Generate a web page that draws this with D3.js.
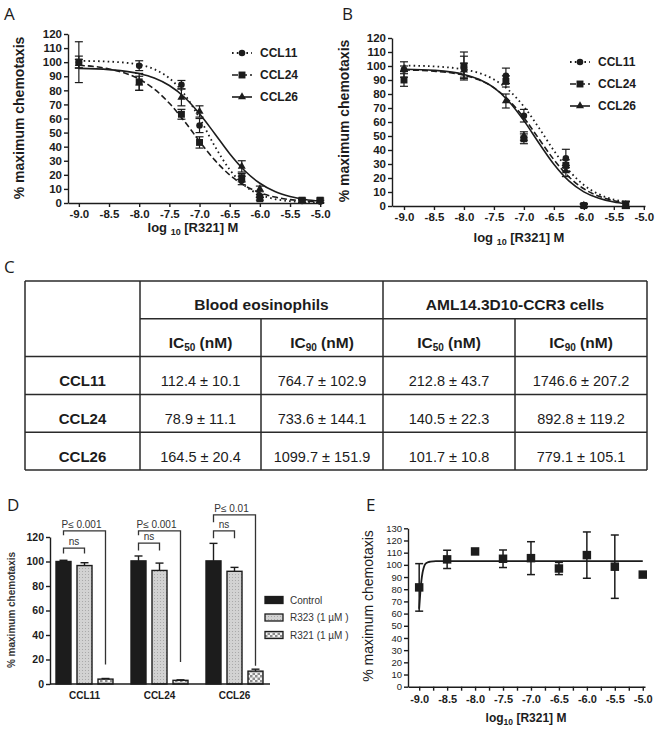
<!DOCTYPE html>
<html><head><meta charset="utf-8">
<script src="https://cdn.jsdelivr.net/npm/d3@7"></script>
<style>body{margin:0;background:#fff}</style>
</head><body>
<svg id="c" width="660" height="730"></svg>
<script>
// ---------------- DATA ----------------
// Panel A (blood eosinophils) dose-response
const doseA = [-9, -8, -7.3, -7, -6.3, -6, -5.3, -5];
const aCCL11 = [100, 97.5, 84, 55, 16, 5, 1.5, 1];
const aCCL11Err = [4.3, 3.5, 3, 5, 3, 1, 1, 1];
const aCCL24 = [100, 86, 63, 43, 18, 3, 2, 2];
const aCCL24Err = [14.5, 6, 3.5, 4, 3, 1, 1.5, 1.5];
const aCCL26 = [99, 85, 75, 65, 26, 10, 1, 1];
const aCCL26Err = [3, 5, 6, 4, 4, 2, 1, 1];
const fitXA = [-9, -8.5, -8, -7.75, -7.5, -7.25, -7, -6.75, -6.5, -6.25, -6, -5.75, -5.5, -5.25, -5];
const aFit11 = [100.9, 100.4, 98.2, 95, 88.6, 77.2, 60.3, 40.6, 23.7, 12.3, 6, 2.8, 1.3, 0.6, 0.3];
const aFit24 = [97.8, 95.2, 87.9, 80.9, 70.8, 58, 43.8, 30.6, 19.9, 12.3, 7.3, 4.2, 2.4, 1.4, 0.8];
const aFit26 = [95.6, 94.7, 91.9, 88.7, 83.4, 75.1, 63.4, 49.4, 35, 22.9, 14, 8.1, 4.6, 2.5, 1.4];

// Panel B (AML14.3D10-CCR3 cells)
const doseB = [-9, -8, -7.3, -7, -6.3, -6, -5.3];
const bCCL11 = [97.5, 99, 93, 64.5, 34, 0.5, 1];
const bCCL11Err = [5.5, 8, 5.5, 4.5, 6.5, 1, 2.5];
const bCCL24 = [90, 100, 89, 48, 29, 0.3, 0.7];
const bCCL24Err = [4.5, 10, 4, 3.5, 4, 1, 2.5];
const bCCL26 = [98, 97, 75, 50, 25, 0.5, 1];
const bCCL26Err = [2, 5, 5, 3, 4, 1, 2];
const fitXB = [-9, -8.5, -8, -7.75, -7.5, -7.25, -7, -6.75, -6.5, -6.25, -6, -5.75, -5.5, -5.3];
const bFit11 = [100.3, 99.7, 97.5, 95, 90.4, 82.6, 71, 55.9, 39.6, 25.4, 15, 8.4, 4.6, 2.9];
const bFit24 = [97.2, 96.3, 93.4, 90.1, 84.4, 75.5, 63, 48, 33.1, 20.9, 12.3, 7, 3.8, 2.3];
const bFit26 = [97.7, 96.9, 94, 90.5, 84.5, 74.7, 61, 45, 29.8, 17.9, 10.1, 5.5, 2.9, 1.7];

const seriesNames = ['CCL11', 'CCL24', 'CCL26'];
const yTicksAB = [0, 10, 20, 30, 40, 50, 60, 70, 80, 90, 100, 110, 120];
const xTicksAB = [-9, -8.5, -8, -7.5, -7, -6.5, -6, -5.5, -5];

// Panel C table
const tableRows = ['CCL11', 'CCL24', 'CCL26'];
const groupHeads = ['Blood eosinophils', 'AML14.3D10-CCR3 cells'];
const icHeads = ['50', '90', '50', '90'];
const bloodIC50 = ['112.4 ± 10.1', '78.9 ± 11.1', '164.5 ± 20.4'];
const bloodIC90 = ['764.7 ± 102.9', '733.6 ± 144.1', '1099.7 ± 151.9'];
const amlIC50 = ['212.8 ± 43.7', '140.5 ± 22.3', '101.7 ± 10.8'];
const amlIC90 = ['1746.6 ± 207.2', '892.8 ± 119.2', '779.1 ± 105.1'];

// Panel D bars
const barCats = ['CCL11', 'CCL24', 'CCL26'];
const barGroups = ['Control', 'R323 (1 µM )', 'R321 (1 µM )'];
const controlVals = [100, 100.5, 100.5];
const controlErr = [1, 4, 14.3];
const r323Vals = [96.7, 92.7, 92];
const r323Err = [2.3, 6, 3.2];
const r321Vals = [4, 3, 10.5];
const r321Err = [0.5, 0.4, 1.6];
const yTicksD = [0, 20, 40, 60, 80, 100, 120];
const brCat = ['CCL11', 'CCL11', 'CCL24', 'CCL24', 'CCL26', 'CCL26'];
const brTo = [2, 1, 2, 1, 2, 1];
const brLabel = ['P\u2264 0.001', 'ns', 'P\u2264 0.001', 'ns', 'P\u2264 0.01', 'ns'];
const brLevel = [125, 111, 125, 115, 138, 125];
const brLeftEnd = [121.5, 106.5, 121.5, 109, 132, 119];
const brRightEnd = [16, 106.5, 18, 109, 15, 119];

// Panel E
const doseE = [-9, -8.5, -8, -7.5, -7, -6.5, -6, -5.5, -5];
const eMean = [81.5, 104.5, 111, 105, 105.5, 97, 108, 98.5, 92];
const eErr = [19.5, 7.5, 0, 7.2, 13.5, 5, 19, 26, 0];
const eFitX = [-9.0, -8.98, -8.96, -8.94, -8.92, -8.9, -8.86, -8.8, -8.7, -8.0, -5.0];
const eFitY = [64, 77, 87, 93.5, 97.5, 100, 101.8, 102.6, 103, 103, 103];
const yTicksE = [0, 10, 20, 30, 40, 50, 60, 70, 80, 90, 100, 110, 120, 130];
const xTicksE = [-9, -8.5, -8, -7.5, -7, -6.5, -6, -5.5, -5];
const xMinorE = [-8.75, -8.25, -7.75, -7.25, -6.75, -6.25, -5.75, -5.25];

// ---------------- DRAWING ----------------
const FONT = "'Liberation Sans', Arial, Helvetica, sans-serif";
const INK = '#1c1c1c';
const svg = d3.select('#c');
svg.append('rect').attr('width', 660).attr('height', 730).attr('fill', '#fff');

// patterns
const defs = svg.append('defs');
const p1 = defs.append('pattern').attr('id', 'dots').attr('patternUnits', 'userSpaceOnUse').attr('width', 3).attr('height', 3);
p1.append('rect').attr('width', 3).attr('height', 3).attr('fill', '#d2d2d2');
p1.append('rect').attr('x', 1).attr('y', 1).attr('width', 1).attr('height', 1).attr('fill', '#a9a9a9');
const p2 = defs.append('pattern').attr('id', 'check').attr('patternUnits', 'userSpaceOnUse').attr('width', 5).attr('height', 5);
p2.append('rect').attr('width', 5).attr('height', 5).attr('fill', '#f4f4f4');
p2.append('rect').attr('width', 2.5).attr('height', 2.5).attr('fill', '#8c8c8c');
p2.append('rect').attr('x', 2.5).attr('y', 2.5).attr('width', 2.5).attr('height', 2.5).attr('fill', '#8c8c8c');

// panel labels
const labelPos = {A: [4, 20], B: [342, 20], C: [4, 273], D: [7, 511], E: [366, 511]};
Object.entries(labelPos).forEach(([k, p]) => {
  svg.append('text').attr('x', p[0]).attr('y', p[1]).text(k)
    .attr('font-family', "'Open Sans', 'Noto Sans', sans-serif").attr('font-size', 17).attr('fill', INK);
});

function styleAxis(a, fs, fw) {
  a.select('.domain').attr('stroke', INK).attr('stroke-width', 1.4);
  a.selectAll('.tick line').attr('stroke', INK).attr('stroke-width', 1.4);
  a.selectAll('text').attr('font-size', fs).attr('font-weight', fw).attr('fill', INK).attr('font-family', FONT);
}

function logTitle(g, x, y, fs, sub, spaced) {
  const t = g.append('text').attr('x', x).attr('y', y).attr('text-anchor', 'middle')
    .attr('font-family', FONT).attr('font-size', fs).attr('font-weight', 'bold').attr('fill', INK);
  t.append('tspan').text(spaced ? 'log ' : 'log');
  t.append('tspan').text('10').attr('font-size', sub).attr('dy', 3);
  t.append('tspan').text(' [R321] M').attr('dy', -3);
}

const markerTypes = [d3.symbolCircle, d3.symbolSquare, d3.symbolTriangle];
const markerSizes = [34, 48, 28];
const dashes = ['1.6,3.2', '6,3', null];

function dosePanel(p) {
  const x = d3.scaleLinear().domain(p.xDomain).range(p.xRange);
  const y = d3.scaleLinear().domain([0, 120]).range(p.yRange);
  const g = svg.append('g');
  const ya = g.append('g').attr('transform', `translate(${p.xRange[0]},0)`)
    .call(d3.axisLeft(y).tickValues(yTicksAB).tickSize(4).tickPadding(2).tickSizeOuter(0));
  styleAxis(ya, 11.5, 'bold');
  const xa = g.append('g').attr('transform', `translate(0,${p.yRange[0]})`)
    .call(d3.axisBottom(x).tickValues(xTicksAB).tickSize(4).tickPadding(3).tickFormat(d => d.toFixed(1)).tickSizeOuter(0));
  styleAxis(xa, 11.5, 'bold');
  // titles
  g.append('text').attr('transform', `translate(${p.yTitle[0]},${p.yTitle[1]}) rotate(-90)`)
    .attr('text-anchor', 'middle').attr('font-family', FONT).attr('font-size', 14).attr('font-weight', 'bold')
    .attr('fill', INK).text('% maximum chemotaxis');
  logTitle(g, p.xTitle[0], p.xTitle[1], 13, 9, true);
  // fits
  p.series.forEach((s, k) => {
    const line = d3.line().x((d, i) => x(s.fitX[i])).y(d => y(d)).curve(d3.curveMonotoneX);
    g.append('path').attr('d', line(s.fit)).attr('fill', 'none').attr('stroke', INK)
      .attr('stroke-width', k === 0 ? 1.8 : 1.6).attr('stroke-dasharray', dashes[k]);
  });
  // error bars
  p.series.forEach((s, k) => {
    s.mean.forEach((m, i) => {
      if (!s.err[i]) return;
      const cx = x(p.dose[i]);
      const y1 = y(m - s.err[i]), y2 = y(m + s.err[i]);
      g.append('line').attr('x1', cx).attr('x2', cx).attr('y1', y1).attr('y2', y2).attr('stroke', INK).attr('stroke-width', 1.2);
      [y1, y2].forEach(yy => g.append('line').attr('x1', cx - 4).attr('x2', cx + 4).attr('y1', yy).attr('y2', yy).attr('stroke', INK).attr('stroke-width', 1.2));
    });
  });
  // markers
  p.series.forEach((s, k) => {
    const sym = d3.symbol().type(markerTypes[k]).size(markerSizes[k]);
    s.mean.forEach((m, i) => {
      g.append('path').attr('d', sym()).attr('transform', `translate(${x(p.dose[i])},${y(m)})`).attr('fill', INK);
    });
  });
  // legend
  seriesNames.forEach((n, k) => {
    const ly = p.legend[1] + k * 22;
    const lx = p.legend[0];
    g.append('line').attr('x1', lx).attr('x2', lx + 20).attr('y1', ly).attr('y2', ly).attr('stroke', INK)
      .attr('stroke-width', k === 0 ? 1.8 : 1.6).attr('stroke-dasharray', dashes[k]);
    g.append('path').attr('d', d3.symbol().type(markerTypes[k]).size(markerSizes[k])())
      .attr('transform', `translate(${lx + 10},${ly})`).attr('fill', INK);
    g.append('text').attr('x', lx + 28).attr('y', ly + 4.3).text(n).attr('font-family', FONT)
      .attr('font-size', 12).attr('font-weight', 'bold').attr('fill', INK);
  });
}

dosePanel({
  xDomain: [-9.18, -4.97], xRange: [68, 322], yRange: [203, 34],
  dose: doseA, yTitle: [24, 118], xTitle: [193, 232], legend: [232, 53],
  series: [
    {mean: aCCL11, err: aCCL11Err, fit: aFit11, fitX: fitXA},
    {mean: aCCL24, err: aCCL24Err, fit: aFit24, fitX: fitXA},
    {mean: aCCL26, err: aCCL26Err, fit: aFit26, fitX: fitXA}
  ]
});
dosePanel({
  xDomain: [-9.2, -4.98], xRange: [392, 645], yRange: [206, 38],
  dose: doseB, yTitle: [349, 121], xTitle: [519, 242], legend: [570, 62],
  series: [
    {mean: bCCL11, err: bCCL11Err, fit: bFit11, fitX: fitXB},
    {mean: bCCL24, err: bCCL24Err, fit: bFit24, fitX: fitXB},
    {mean: bCCL26, err: bCCL26Err, fit: bFit26, fitX: fitXB}
  ]
});

// ---------------- TABLE (C) ----------------
(function () {
  const g = svg.append('g').attr('font-family', FONT).attr('fill', INK);
  const colEdges = [25, 140, 261, 383, 515, 647];
  const rowY = d3.scaleBand().domain(['head', 'sub', ...tableRows]).range([281, 470]);
  const L = (x1, y1, x2, y2) => g.append('line').attr('x1', x1).attr('y1', y1).attr('x2', x2).attr('y2', y2)
    .attr('stroke', '#2a2a2a').attr('stroke-width', 1.5);
  const top = rowY('head'), bot = rowY.range()[1];
  L(colEdges[0], top, colEdges[5], top);
  L(colEdges[0], bot, colEdges[5], bot);
  L(colEdges[1], rowY('sub'), colEdges[5], rowY('sub'));
  tableRows.forEach(r => L(colEdges[0], rowY(r), colEdges[5], rowY(r)));
  [0, 1, 3, 5].forEach(i => L(colEdges[i], top, colEdges[i], bot));
  [2, 4].forEach(i => L(colEdges[i], rowY('sub'), colEdges[i], bot));
  const bw = rowY.bandwidth();
  const base = k => rowY(k) + bw / 2 + 10.5;
  const mid = (a, b) => (colEdges[a] + colEdges[b]) / 2;
  groupHeads.forEach((h, i) => {
    g.append('text').attr('x', i === 0 ? mid(1, 3) : mid(3, 5)).attr('y', base('head')).attr('text-anchor', 'middle')
      .attr('font-size', 15.5).attr('font-weight', 'bold').text(h);
  });
  icHeads.forEach((s, i) => {
    const t = g.append('text').attr('x', mid(i + 1, i + 2)).attr('y', base('sub')).attr('text-anchor', 'middle')
      .attr('font-size', 15.5).attr('font-weight', 'bold');
    t.append('tspan').text('IC');
    t.append('tspan').text(s).attr('font-size', 10).attr('dy', 3);
    t.append('tspan').text(' (nM)').attr('dy', -3);
  });
  const cols = [bloodIC50, bloodIC90, amlIC50, amlIC90];
  tableRows.forEach((r, j) => {
    g.append('text').attr('x', mid(0, 1)).attr('y', base(r)).attr('text-anchor', 'middle')
      .attr('font-size', 15).attr('font-weight', 'bold').text(r);
    cols.forEach((c, i) => {
      g.append('text').attr('x', mid(i + 1, i + 2)).attr('y', base(r)).attr('text-anchor', 'middle')
        .attr('font-size', 14.5).text(c[j]);
    });
  });
})();

// ---------------- BARS (D) ----------------
(function () {
  const g = svg.append('g');
  const x = d3.scaleBand().domain(barCats).range([47, 272]);
  const xi = d3.scalePoint().domain(barGroups).range([-21, 21]);
  const y = d3.scaleLinear().domain([0, 120]).range([684, 537]);
  const bw = 15;
  const vals = [controlVals, r323Vals, r321Vals];
  const errs = [controlErr, r323Err, r321Err];
  const fills = [INK, 'url(#dots)', 'url(#check)'];
  const cx = (c, gi) => x(c) + x.bandwidth() / 2 + xi(barGroups[gi]);
  barGroups.forEach((grp, gi) => {
    barCats.forEach((c, ci) => {
      const v = vals[gi][ci], e = errs[gi][ci];
      const xc = cx(c, gi);
      g.append('line').attr('x1', xc).attr('x2', xc).attr('y1', y(v)).attr('y2', y(v + e)).attr('stroke', INK).attr('stroke-width', 1.4);
      g.append('line').attr('x1', xc - 4).attr('x2', xc + 4).attr('y1', y(v + e)).attr('y2', y(v + e)).attr('stroke', INK).attr('stroke-width', 1.4);
      g.append('rect').attr('x', xc - bw / 2).attr('width', bw).attr('y', y(v)).attr('height', y(0) - y(v))
        .attr('fill', fills[gi]).attr('stroke', INK).attr('stroke-width', 1.4);
    });
  });
  const ya = g.append('g').attr('transform', 'translate(50,0)')
    .call(d3.axisLeft(y).tickValues(yTicksD).tickSize(4).tickPadding(2).tickSizeOuter(0));
  styleAxis(ya, 10.5, 'bold');
  const xa = g.append('g').attr('transform', `translate(0,${y(0)})`)
    .call(d3.axisBottom(x).tickSize(0).tickPadding(8).tickSizeOuter(0));
  styleAxis(xa, 10, 'bold');
  xa.select('.domain').attr('d', 'M50,0H270');
  g.append('text').attr('transform', 'translate(15,610) rotate(-90)').attr('text-anchor', 'middle')
    .attr('font-family', FONT).attr('font-size', 10).attr('font-weight', 'bold').attr('fill', '#333')
    .text('% maximum chemotaxis');
  // brackets
  brLabel.forEach((lab, i) => {
    const x1 = cx(brCat[i], 0), x2 = cx(brCat[i], brTo[i]);
    const yl = y(brLevel[i]);
    g.append('path').attr('d', `M${x1},${y(brLeftEnd[i])}V${yl}H${x2}V${y(brRightEnd[i])}`)
      .attr('fill', 'none').attr('stroke', '#333').attr('stroke-width', 1.3);
    g.append('text').attr('x', (x1 + x2) / 2 - (i % 2 ? 0 : 3)).attr('y', yl - 3).attr('text-anchor', 'middle')
      .attr('font-family', FONT).attr('font-size', 10).attr('fill', '#333').text(lab);
  });
  // legend
  barGroups.forEach((grp, gi) => {
    const ly = 600 + gi * 17.5;
    g.append('rect').attr('x', 265).attr('y', ly - 3.5).attr('width', 18).attr('height', 7)
      .attr('fill', fills[gi]).attr('stroke', INK).attr('stroke-width', 1.3);
    g.append('text').attr('x', 290).attr('y', ly + 3.6).text(grp).attr('font-family', FONT)
      .attr('font-size', 10).attr('fill', '#333');
  });
})();

// ---------------- E ----------------
(function () {
  const g = svg.append('g');
  const x = d3.scaleLinear().domain([-9.2, -4.96]).range([408, 645]);
  const y = d3.scaleLinear().domain([0, 130]).range([686.7, 528.3]);
  const ya = g.append('g').attr('transform', 'translate(408,0)')
    .call(d3.axisLeft(y).tickValues(yTicksE).tickSize(4).tickPadding(2).tickSizeOuter(0));
  styleAxis(ya, 9.5, 'normal');
  const xa = g.append('g').attr('transform', `translate(0,${y(0)})`)
    .call(d3.axisBottom(x).tickValues(xTicksE).tickSize(4).tickPadding(5).tickFormat(d => d.toFixed(1)).tickSizeOuter(0));
  styleAxis(xa, 11, 'bold');
  const xm = g.append('g').attr('transform', `translate(0,${y(0)})`)
    .call(d3.axisBottom(x).tickValues(xMinorE).tickSize(4).tickFormat('').tickSizeOuter(0));
  styleAxis(xm, 9, 'normal');
  xm.select('.domain').remove();
  g.append('text').attr('transform', 'translate(373,606) rotate(-90)').attr('text-anchor', 'middle')
    .attr('font-family', FONT).attr('font-size', 14).attr('fill', INK).text('% maximum chemotaxis');
  const t = g.append('text').attr('x', 526).attr('y', 722).attr('text-anchor', 'middle')
    .attr('font-family', FONT).attr('font-size', 12).attr('font-weight', 'bold').attr('fill', INK);
  t.append('tspan').text('log');
  t.append('tspan').text('10').attr('font-size', 8.5).attr('dy', 3);
  t.append('tspan').text(' [R321] M').attr('dy', -3);
  const line = d3.line().x((d, i) => x(eFitX[i])).y(d => y(d)).curve(d3.curveMonotoneX);
  g.append('path').attr('d', line(eFitY)).attr('fill', 'none').attr('stroke', INK).attr('stroke-width', 1.8);
  eMean.forEach((m, i) => {
    const cx = x(doseE[i]);
    if (eErr[i]) {
      const y1 = y(m - eErr[i]), y2 = y(m + eErr[i]);
      g.append('line').attr('x1', cx).attr('x2', cx).attr('y1', y1).attr('y2', y2).attr('stroke', INK).attr('stroke-width', 1.5);
      [y1, y2].forEach(yy => g.append('line').attr('x1', cx - 4).attr('x2', cx + 4).attr('y1', yy).attr('y2', yy).attr('stroke', INK).attr('stroke-width', 1.5));
    }
    g.append('path').attr('d', d3.symbol().type(d3.symbolSquare).size(72)()).attr('transform', `translate(${cx},${y(m)})`).attr('fill', INK);
  });
})();
</script>
</body></html>
